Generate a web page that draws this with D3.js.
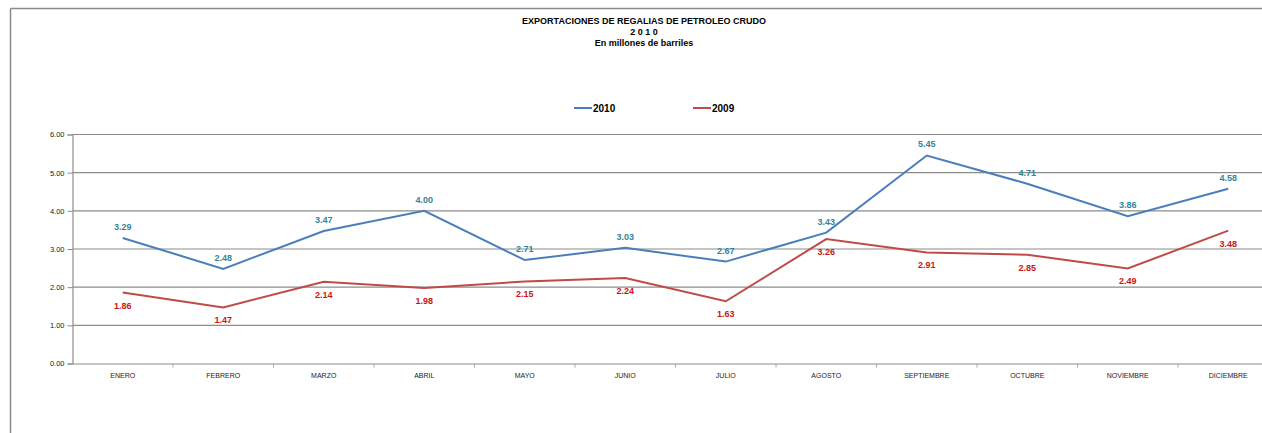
<!DOCTYPE html>
<html>
<head>
<meta charset="utf-8">
<script src="https://cdn.jsdelivr.net/npm/d3@7"></script>
<style>
  html, body { margin: 0; padding: 0; background: #fff; }
  svg { display: block; }
</style>
</head>
<body>
<div id="chart"></div>
<script>
const months = ["ENERO","FEBRERO","MARZO","ABRIL","MAYO","JUNIO","JULIO","AGOSTO","SEPTIEMBRE","OCTUBRE","NOVIEMBRE","DICIEMBRE"];
const values2010 = [3.29,2.48,3.47,4.00,2.71,3.03,2.67,3.43,5.45,4.71,3.86,4.58];
const values2009 = [1.86,1.47,2.14,1.98,2.15,2.24,1.63,3.26,2.91,2.85,2.49,3.48];
const yTicks = [0,1,2,3,4,5,6];
const titleLines = ["EXPORTACIONES DE REGALIAS DE PETROLEO CRUDO","2 0 1 0","En millones de barriles"];
const seriesNames = ["2010","2009"];

const W = 1262, H = 433;
const svg = d3.select("#chart").append("svg").attr("width", W).attr("height", H);

// outer border (chart frame, partly clipped)
svg.append("line").attr("x1",10.5).attr("x2",W).attr("y1",8.5).attr("y2",8.5).attr("stroke","#8a8a8a").attr("stroke-width",1.5);
svg.append("line").attr("x1",10.5).attr("x2",10.5).attr("y1",8.5).attr("y2",H).attr("stroke","#8a8a8a").attr("stroke-width",1.5);

// title
svg.append("g").selectAll("text").data(titleLines).join("text")
  .attr("x", 644).attr("y", (d,i) => 23.5 + i*11)
  .attr("text-anchor","middle")
  .attr("font-family","Liberation Sans, Arial, sans-serif")
  .attr("font-weight","bold").attr("font-size", 9)
  .attr("fill","#000")
  .text(d => d);

const x = d3.scaleBand().domain(months).range([72.5, 1278.5]).padding(0);
const y = d3.scaleLinear().domain([0,6]).range([363.5, 134.5]);

// gridlines
svg.append("g").selectAll("line").data(yTicks.filter(t => t > 0)).join("line")
  .attr("x1", 72.5).attr("x2", 1278.5)
  .attr("y1", d => y(d)).attr("y2", d => y(d))
  .attr("stroke","#8c8c8c").attr("stroke-width",1.2);

// y axis
const yAxis = svg.append("g").attr("transform","translate(72.5,0)")
  .call(d3.axisLeft(y).tickValues(yTicks).tickFormat(d3.format(".2f")).tickSize(5).tickPadding(3));
yAxis.select(".domain").attr("stroke","#8c8c8c").attr("stroke-width",1.2);
yAxis.selectAll(".tick line").attr("stroke","#8c8c8c");
yAxis.selectAll("text").attr("font-family","Liberation Sans, Arial, sans-serif").attr("font-size",7.5).attr("fill","#222");

// x axis
const xAxis = svg.append("g").attr("transform","translate(0,363.5)")
  .call(d3.axisBottom(x).tickSize(0).tickPadding(10));
xAxis.select(".domain").attr("stroke","#8c8c8c").attr("stroke-width",1.2);
xAxis.selectAll("text").attr("font-family","Liberation Sans, Arial, sans-serif").attr("font-size",7).attr("fill","#222");
// category boundary ticks
svg.append("g").selectAll("line").data(months.slice(1)).join("line")
  .attr("x1", d => x(d)).attr("x2", d => x(d))
  .attr("y1", 363.5).attr("y2", 367.5)
  .attr("stroke","#aaa").attr("stroke-width",1);

const cx = d => x(d) + x.bandwidth()/2;
const line = d3.line().x(d => cx(d.m)).y(d => y(d.v));

const series = [
  {name: seriesNames[0], values: values2010, color: "#4a7ebb", label: "#31859c", dy: -8},
  {name: seriesNames[1], values: values2009, color: "#be4b48", label: "#cc1414", dy: 16}
];

series.forEach(s => {
  const pts = months.map((m,i) => ({m, v: s.values[i]}));
  svg.append("path").datum(pts).attr("d", line)
    .attr("fill","none").attr("stroke", s.color).attr("stroke-width", 2);
  svg.append("g").selectAll("text").data(pts).join("text")
    .attr("x", d => cx(d.m)).attr("y", d => y(d.v) + s.dy)
    .attr("text-anchor","middle")
    .attr("font-family","Liberation Sans, Arial, sans-serif")
    .attr("font-weight","bold").attr("font-size", 9)
    .attr("fill", s.label)
    .text(d => d3.format(".2f")(d.v));
});

// legend
const legendX = [574, 693];
series.forEach((s,i) => {
  svg.append("line").attr("x1", legendX[i]).attr("x2", legendX[i]+18)
    .attr("y1", 108).attr("y2", 108).attr("stroke", s.color).attr("stroke-width", 2);
  svg.append("text").attr("x", legendX[i]+19).attr("y", 111.5)
    .attr("font-family","Liberation Sans, Arial, sans-serif")
    .attr("font-weight","bold").attr("font-size", 10).attr("fill","#000")
    .text(s.name);
});
</script>
</body>
</html>
